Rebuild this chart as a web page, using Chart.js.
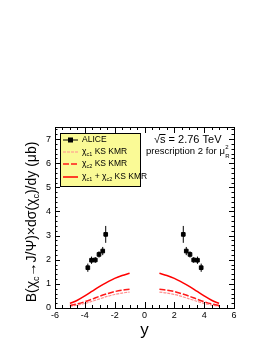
<!DOCTYPE html>
<html>
<head>
<meta charset="utf-8">
<script src="https://cdn.jsdelivr.net/npm/chart.js@4.4.1/dist/chart.umd.min.js"></script>
<style>
  html, body { margin: 0; padding: 0; background: #fff; }
</style>
</head>
<body>
<canvas id="chiChart" width="273" height="353"></canvas>
<script>
// --- dati ---
const aliceX = [-3.8, -3.55, -3.3, -3.05, -2.8, -2.6, 2.6, 2.8, 3.05, 3.3, 3.55, 3.8];
const aliceY = [1.67, 1.98, 1.99, 2.22, 2.36, 3.05, 3.05, 2.36, 2.22, 1.99, 1.98, 1.67];
const aliceErr = [0.17, 0.15, 0.12, 0.13, 0.17, 0.35, 0.35, 0.17, 0.13, 0.12, 0.15, 0.17];

// curve teoriche (KS KMR), rami a y<0 e y>0
const curveX = [-5, -4.5, -4, -3.5, -3, -2.5, -2, -1.5, -1, null, 1, 1.5, 2, 2.5, 3, 3.5, 4, 4.5, 5];
const chic1 = [0.07, 0.12, 0.19, 0.28, 0.38, 0.48, 0.56, 0.62, 0.66, null, 0.66, 0.62, 0.56, 0.48, 0.38, 0.28, 0.19, 0.12, 0.07];
const chic2 = [0.10, 0.17, 0.26, 0.37, 0.49, 0.59, 0.68, 0.74, 0.78, null, 0.78, 0.74, 0.68, 0.59, 0.49, 0.37, 0.26, 0.17, 0.10];
const chicSum = [0.19, 0.32, 0.50, 0.70, 0.90, 1.07, 1.23, 1.35, 1.44, null, 1.44, 1.35, 1.23, 1.07, 0.90, 0.70, 0.50, 0.32, 0.19];

const xTicks = [-6, -4, -2, 0, 2, 4, 6];
const yTicks = [0, 1, 2, 3, 4, 5, 6, 7];

const FONT = "'Liberation Sans', Arial, sans-serif";

function toPoints(xs, ys) {
    return xs.map((x, i) => ({ x: x === null ? 0 : x, y: ys[i] }));
}

// testo con pedici / apici: parts = [[testo, 'n'|'sub'|'sup'], ...]
function richWidth(ctx, parts, size) {
    let w = 0;
    parts.forEach(p => {
        const s = p[1] === 'n' ? size : size * 0.65;
        ctx.font = s + "px " + FONT;
        w += ctx.measureText(p[0]).width;
    });
    return w;
}
function drawRich(ctx, parts, x, y, size) {
    parts.forEach(p => {
        const s = p[1] === 'n' ? size : size * 0.65;
        ctx.font = s + "px " + FONT;
        let dy = 0;
        if (p[1] === 'sub') dy = size * 0.3;
        if (p[1] === 'sup') dy = -size * 0.4;
        ctx.fillText(p[0], x, y + dy);
        x += ctx.measureText(p[0]).width;
    });
    return x;
}

// errori, cornice e tacche in stile ROOT
const rootStyle = {
    id: 'rootStyle',
    beforeDatasetsDraw(chart) {
        const ctx = chart.ctx;
        const xs = chart.scales.x, ys = chart.scales.y;
        ctx.save();
        ctx.strokeStyle = '#000';
        ctx.lineWidth = 1;
        aliceX.forEach((x, i) => {
            const px = xs.getPixelForValue(x);
            ctx.beginPath();
            ctx.moveTo(px, ys.getPixelForValue(aliceY[i] - aliceErr[i]));
            ctx.lineTo(px, ys.getPixelForValue(aliceY[i] + aliceErr[i]));
            ctx.stroke();
        });
        ctx.restore();
    },
    afterDraw(chart) {
        const ctx = chart.ctx;
        const a = chart.chartArea;
        const xs = chart.scales.x, ys = chart.scales.y;
        ctx.save();
        ctx.strokeStyle = '#000';
        ctx.lineWidth = 1;
        ctx.strokeRect(a.left + 0.5, a.top + 0.5, a.right - a.left, a.bottom - a.top);

        ctx.beginPath();
        for (let v = -6; v <= 6.001; v += 0.5) {
            const px = Math.round(xs.getPixelForValue(v)) + 0.5;
            const len = Math.abs(v % 2) < 0.01 ? 6 : 3;
            ctx.moveTo(px, a.bottom); ctx.lineTo(px, a.bottom - len);
            ctx.moveTo(px, a.top); ctx.lineTo(px, a.top + len);
        }
        for (let v = 0; v <= 7.5; v += 0.2) {
            const py = Math.round(ys.getPixelForValue(v)) + 0.5;
            const len = Math.abs(v - Math.round(v)) < 0.01 ? 5 : 2.5;
            ctx.moveTo(a.left, py); ctx.lineTo(a.left + len, py);
            ctx.moveTo(a.right, py); ctx.lineTo(a.right - len, py);
        }
        ctx.stroke();

        // legenda
        const lx = 60, ly = 133, lw = 80, lh = 53;
        ctx.fillStyle = '#fafa96';
        ctx.fillRect(lx, ly, lw, lh);
        ctx.strokeRect(lx + 0.5, ly + 0.5, lw, lh);

        const ds = chart.data.datasets;
        const rows = [
            { y: 140, ds: ds[0], parts: [['ALICE', 'n']] },
            { y: 152, ds: ds[1], parts: [['\u03c7', 'n'], ['c1', 'sub'], [' KS KMR', 'n']] },
            { y: 164, ds: ds[2], parts: [['\u03c7', 'n'], ['c2', 'sub'], [' KS KMR', 'n']] },
            { y: 177, ds: ds[3], parts: [['\u03c7', 'n'], ['c1', 'sub'], [' + \u03c7', 'n'], ['c2', 'sub'], [' KS KMR', 'n']] }
        ];
        rows.forEach((r, i) => {
            ctx.save();
            ctx.strokeStyle = r.ds.borderColor || '#000';
            ctx.lineWidth = i === 0 ? 1 : r.ds.borderWidth;
            ctx.setLineDash(i === 0 ? [] : (r.ds.borderDash || []));
            ctx.beginPath();
            ctx.moveTo(63, r.y); ctx.lineTo(78, r.y);
            ctx.stroke();
            if (i === 0) {
                ctx.fillStyle = '#000';
                ctx.fillRect(68, r.y - 2.5, 5, 5);
            }
            ctx.restore();
            ctx.fillStyle = '#000';
            ctx.textBaseline = 'middle';
            drawRich(ctx, r.parts, 82, r.y, 8.5);
        });

        // energia e prescrizione
        ctx.fillStyle = '#000';
        ctx.textBaseline = 'middle';
        ctx.font = "11px " + FONT;
        ctx.fillText('\u221as = 2.76 TeV', 154, 140);
        const sq = ctx.measureText('\u221a').width;
        const sw = ctx.measureText('s').width;
        ctx.beginPath();
        ctx.moveTo(154 + sq - 0.5, 134.5); ctx.lineTo(154 + sq + sw, 134.5);
        ctx.stroke();
        ctx.font = "9.5px " + FONT;
        const txt = 'prescription 2 for \u03bc';
        ctx.fillText(txt, 146, 151);
        const ex = 146 + ctx.measureText(txt).width;
        ctx.font = "6px " + FONT;
        ctx.fillText('2', ex + 0.5, 147);
        ctx.fillText('R', ex + 0.5, 156);

        // titolo asse y
        ctx.save();
        ctx.translate(32, 222);
        ctx.rotate(-Math.PI / 2);
        const tparts = [['B(\u03c7', 'n'], ['c', 'sub'], ['\u2192J/\u03a8)\u00d7d\u03c3(\u03c7', 'n'], ['c', 'sub'], [')/dy (\u03bcb)', 'n']];
        const tw = richWidth(ctx, tparts, 14);
        ctx.textBaseline = 'middle';
        drawRich(ctx, tparts, -tw / 2, 0, 14);
        ctx.restore();

        ctx.restore();
    }
};

const ctx = document.getElementById('chiChart').getContext('2d');
const chiChart = new Chart(ctx, {
    type: 'line',
    data: {
        datasets: [
            {
                label: 'ALICE',
                data: toPoints(aliceX, aliceY),
                showLine: false,
                pointStyle: 'rect',
                pointRadius: 2.6,
                pointBackgroundColor: '#000',
                pointBorderColor: '#000',
                borderColor: '#000',
                order: 0
            },
            {
                label: 'chi_c1 KS KMR',
                data: toPoints(curveX, chic1),
                borderColor: '#ff8f8f',
                borderWidth: 1.2,
                borderDash: [3, 1],
                pointRadius: 0,
                spanGaps: false,
                order: 3
            },
            {
                label: 'chi_c2 KS KMR',
                data: toPoints(curveX, chic2),
                borderColor: '#ff1a1a',
                borderWidth: 1.5,
                borderDash: [6, 2],
                pointRadius: 0,
                spanGaps: false,
                order: 2
            },
            {
                label: 'chi_c1 + chi_c2 KS KMR',
                data: toPoints(curveX, chicSum),
                borderColor: '#ff0000',
                borderWidth: 1.5,
                pointRadius: 0,
                spanGaps: false,
                order: 1
            }
        ]
    },
    options: {
        responsive: false,
        animation: false,
        layout: { padding: { left: 0, right: 39, top: 127, bottom: 0 } },
        plugins: { legend: { display: false }, tooltip: { enabled: false } },
        elements: { line: { tension: 0.3 } },
        scales: {
            x: {
                type: 'linear',
                min: -6, max: 6,
                grid: { display: false, drawTicks: false },
                border: { display: false },
                afterFit: s => { s.height = 45; },
                afterBuildTicks: s => { s.ticks = xTicks.map(v => ({ value: v })); },
                ticks: { color: '#000', padding: 2, font: { family: FONT, size: 9 } },
                title: { display: true, text: 'y', color: '#000', padding: { top: 0, bottom: 12 }, font: { family: FONT, size: 17 } }
            },
            y: {
                type: 'linear',
                min: 0, max: 7.5,
                grid: { display: false, drawTicks: false },
                border: { display: false },
                afterFit: s => { s.width = 55; },
                afterBuildTicks: s => { s.ticks = yTicks.map(v => ({ value: v })); },
                ticks: { color: '#000', padding: 4, font: { family: FONT, size: 9 } }
            }
        }
    },
    plugins: [rootStyle]
});
</script>
</body>
</html>
